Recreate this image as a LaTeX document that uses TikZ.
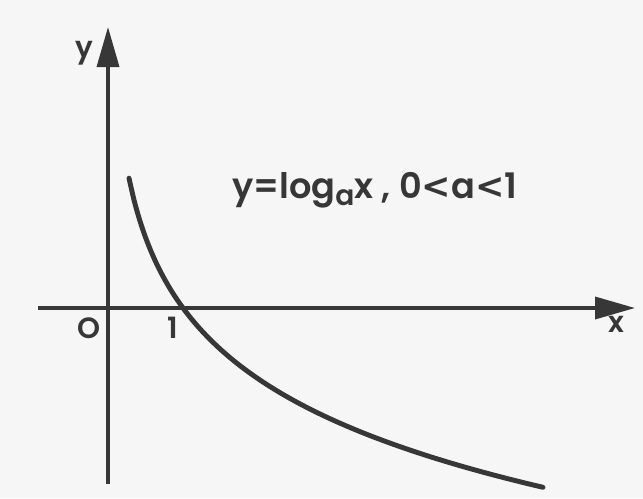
\documentclass[tikz,border=0pt]{standalone}
\usepackage{fontspec}
\setmainfont{Poppins}[BoldFont={Poppins SemiBold}]
\newfontfamily\simbolos{DejaVu Sans}
\usepackage{xcolor}
\definecolor{tinta}{RGB}{55,55,55}
\definecolor{papel}{RGB}{246,246,246}
\usetikzlibrary{arrows.meta}

\newcommand{\menor}{{\simbolos\bfseries <}}

\begin{document}
\begin{tikzpicture}[x=0.03cm,y=-0.03cm,
    eixo/.style={tinta,line width=3pt,-{Triangle[length=1.2cm,width=0.66cm]}},
    curva/.style={tinta,line width=4.2pt,line cap=round},
    rotulo/.style={text=tinta,font=\fontsize{25}{27}\selectfont\bfseries,inner sep=0pt},
    formula/.style={text=tinta,font=\fontsize{30}{32}\selectfont\bfseries,inner sep=0pt}
  ]
  % fundo
  \fill[papel] (0,0) rectangle (643,498);
  \useasboundingbox (0,0) rectangle (643,498);
  % eixos
  \draw[eixo] (38,308) -- (635,308);
  \draw[eixo] (108,484) -- (108,27);
  % curva
  \draw[curva] plot[domain=0.28:5.8,samples=80,smooth,variable=\u]
    ({108+75*\u},{308+102*ln(\u)});
  % rotulos
  \node[rotulo] (ly) at (84,53)  {y};
  \node[rotulo] (lx) at (616,324) {x};
  \node[rotulo] (lo) at (89,328) {O};
  \node[rotulo] (l1) at (173,328) {1};
  \node[formula,anchor=west] (eq) at (232,190)
    {y=log\raisebox{-0.35ex}{\fontsize{24}{26}\selectfont a}x , 0\menor a\menor 1};
\end{tikzpicture}
\end{document}
